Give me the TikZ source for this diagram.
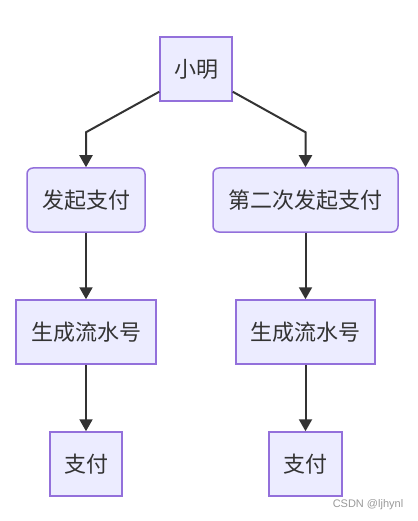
\documentclass[tikz,border=0pt]{standalone}
\usepackage{fontspec}
\setmainfont{Noto Sans CJK SC}
\newfontfamily\markfont{Liberation Sans}
\usetikzlibrary{arrows.meta, positioning}
\definecolor{BoxFill}{HTML}{ECECFF}
\definecolor{BoxLine}{HTML}{9370DB}
\definecolor{Ink}{HTML}{333333}
\definecolor{MarkGray}{HTML}{999999}

\begin{document}
\begin{tikzpicture}[
    x=1pt, y=-1pt,
    box/.style={
        draw=BoxLine, fill=BoxFill, line width=1.5pt,
        minimum height=64pt, inner sep=0pt, text=Ink,
        font=\fontsize{22}{26}\selectfont
    },
    roundbox/.style={box, rounded corners=6pt},
    arr/.style={-{Triangle[length=12pt, width=13pt]}, line width=2pt, draw=Ink}
]
\useasboundingbox (0,0) rectangle (417,521);

% =============================================
% Top: the user
% =============================================
\node[box, minimum width=72pt] (ming) at (196,69) {小明};

% =============================================
% Left branch: first payment
% =============================================
\node[roundbox, minimum width=118pt] (pay1) at (86,200) {发起支付};
\node[box, minimum width=140pt] (flow1) at (86,332) {生成流水号};
\node[box, minimum width=72pt] (done1) at (86,464) {支付};

% =============================================
% Right branch: second payment
% =============================================
\node[roundbox, minimum width=185pt] (pay2) at (305.5,200) {第二次发起支付};
\node[box, minimum width=139pt] (flow2) at (305.5,332) {生成流水号};
\node[box, minimum width=73pt] (done2) at (305.5,464) {支付};

% =============================================
% Connectors
% =============================================
\draw[arr] ([yshift=10pt]ming.south west) -- ([yshift=35pt]pay1.north) -- (pay1.north);
\draw[arr] ([yshift=10pt]ming.south east) -- ([yshift=35pt]pay2.north) -- (pay2.north);

\draw[arr] (pay1) -- (flow1);
\draw[arr] (flow1) -- (done1);
\draw[arr] (pay2) -- (flow2);
\draw[arr] (flow2) -- (done2);

% watermark
\node[font=\markfont\fontsize{11}{13}\selectfont, text=MarkGray] (mark) at (368,505) {CSDN @ljhynl};

\end{tikzpicture}
\end{document}
